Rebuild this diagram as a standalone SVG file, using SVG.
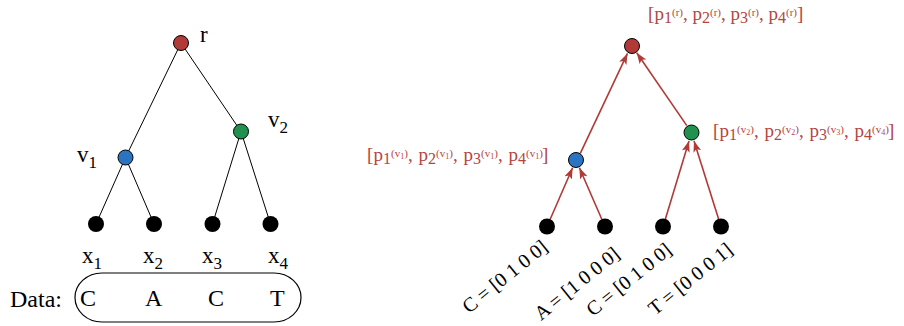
<svg xmlns="http://www.w3.org/2000/svg" width="904" height="326" viewBox="0 0 904 326">
<style>
.t{font-family:"Liberation Serif","Times New Roman",serif;fill:#000}
.rt{font-family:"Liberation Serif","Times New Roman",serif;fill:#b5443e}
.edge{stroke:#000;stroke-width:1;fill:none}
.arr{stroke:#b03a36;stroke-width:1.6;fill:none;marker-end:url(#ah)}
.leaf{fill:#000}
.nr{fill:#b23a36;stroke:#000;stroke-width:1}
.nb{fill:#2a74c2;stroke:#000;stroke-width:1}
.ng{fill:#21914f;stroke:#000;stroke-width:1}
.s{font-size:11px}
.ss{font-size:8px}
.d{font-size:16px}
</style>
<defs>
<marker id="ah" markerUnits="userSpaceOnUse" markerWidth="12" markerHeight="10" refX="11" refY="4" orient="auto">
<path d="M0,0 L11,4 L0,8 L2.5,4 z" fill="#b03a36"/>
</marker>
</defs>
<rect width="904" height="326" fill="#fff"/>
<g id="connectors">
<line class="edge" x1="181" y1="43" x2="125.5" y2="157.5"/>
<line class="edge" x1="181" y1="43" x2="241" y2="131.5"/>
<line class="edge" x1="125.5" y1="157.5" x2="96" y2="224"/>
<line class="edge" x1="125.5" y1="157.5" x2="154" y2="224"/>
<line class="edge" x1="241" y1="131.5" x2="212.5" y2="224"/>
<line class="edge" x1="241" y1="131.5" x2="270.5" y2="224"/>
<line class="arr" x1="550.2" y1="219.2" x2="572.6" y2="167.8"/>
<line class="arr" x1="601.8" y1="219.2" x2="579.4" y2="167.8"/>
<line class="arr" x1="665.4" y1="218.9" x2="689" y2="141"/>
<line class="arr" x1="718.6" y1="218.9" x2="694" y2="141"/>
<line class="arr" x1="580.3" y1="153.3" x2="627.5" y2="53.4"/>
<line class="arr" x1="686.8" y1="125.6" x2="636.7" y2="52.8"/>
</g>
<g id="node-r">
<circle class="nr" cx="181" cy="43" r="7.5"/>
<text class="t" x="200" y="42" font-size="23">r</text>
</g>
<g id="node-v1">
<circle class="nb" cx="125.5" cy="157.5" r="7.5"/>
<text class="t" x="77" y="162" font-size="23">v<tspan font-size="17" dy="6">1</tspan></text>
</g>
<g id="node-v2">
<circle class="ng" cx="241" cy="131.5" r="7.5"/>
<text class="t" x="268" y="127" font-size="23">v<tspan font-size="17" dy="6">2</tspan></text>
</g>
<g id="node-x1">
<circle class="leaf" cx="96" cy="224" r="8"/>
<text class="t" x="82" y="263" font-size="23">x<tspan font-size="17" dy="6">1</tspan></text>
</g>
<g id="node-x2">
<circle class="leaf" cx="154" cy="224" r="8"/>
<text class="t" x="143" y="263" font-size="23">x<tspan font-size="17" dy="6">2</tspan></text>
</g>
<g id="node-x3">
<circle class="leaf" cx="212.5" cy="224" r="8"/>
<text class="t" x="202" y="263" font-size="23">x<tspan font-size="17" dy="6">3</tspan></text>
</g>
<g id="node-x4">
<circle class="leaf" cx="270.5" cy="224" r="8"/>
<text class="t" x="268" y="263" font-size="23">x<tspan font-size="17" dy="6">4</tspan></text>
</g>
<g id="data">
<text class="t" x="10" y="307" font-size="24">Data:</text>
<rect x="75" y="273" width="226" height="49" rx="27" ry="24.5" fill="none" stroke="#000" stroke-width="1.2"/>
<text class="t" x="80" y="306" font-size="24">C</text>
<text class="t" x="145" y="306" font-size="24">A</text>
<text class="t" x="208" y="306" font-size="24">C</text>
<text class="t" x="270" y="306" font-size="24">T</text>
</g>
<g id="rnode-r">
<circle class="nr" cx="632" cy="46" r="7.5"/>
<text class="rt" font-size="19"><tspan x="648" y="20">[</tspan><tspan x="654.5" y="20">p</tspan><tspan class="d" x="664" y="22.5">1</tspan><tspan class="s" x="672" y="15.5">(r)</tspan><tspan x="683" y="20">,</tspan><tspan x="692.5" y="20">p</tspan><tspan class="d" x="702" y="22.5">2</tspan><tspan class="s" x="710" y="15.5">(r)</tspan><tspan x="721" y="20">,</tspan><tspan x="730.5" y="20">p</tspan><tspan class="d" x="740" y="22.5">3</tspan><tspan class="s" x="748" y="15.5">(r)</tspan><tspan x="759" y="20">,</tspan><tspan x="768.5" y="20">p</tspan><tspan class="d" x="778" y="22.5">4</tspan><tspan class="s" x="786" y="15.5">(r)</tspan><tspan x="797" y="20">]</tspan></text>
</g>
<g id="rnode-v1">
<circle class="nb" cx="576" cy="160" r="7.5"/>
<text class="rt" font-size="19"><tspan x="367" y="161">[</tspan><tspan x="373.5" y="161">p</tspan><tspan class="d" x="383" y="163.5">1</tspan><tspan class="s" x="391" y="156.5">(v</tspan><tspan class="ss" dy="2">1</tspan><tspan class="s" dy="-2">)</tspan><tspan x="408" y="161">,</tspan><tspan x="418.5" y="161">p</tspan><tspan class="d" x="428" y="163.5">2</tspan><tspan class="s" x="436" y="156.5">(v</tspan><tspan class="ss" dy="2">1</tspan><tspan class="s" dy="-2">)</tspan><tspan x="453" y="161">,</tspan><tspan x="463.5" y="161">p</tspan><tspan class="d" x="473" y="163.5">3</tspan><tspan class="s" x="481" y="156.5">(v</tspan><tspan class="ss" dy="2">1</tspan><tspan class="s" dy="-2">)</tspan><tspan x="498" y="161">,</tspan><tspan x="508.5" y="161">p</tspan><tspan class="d" x="518" y="163.5">4</tspan><tspan class="s" x="526" y="156.5">(v</tspan><tspan class="ss" dy="2">1</tspan><tspan class="s" dy="-2">)</tspan><tspan x="542" y="161">]</tspan></text>
</g>
<g id="rnode-v2">
<circle class="ng" cx="691.5" cy="132.5" r="7.5"/>
<text class="rt" font-size="19"><tspan x="713" y="137">[</tspan><tspan x="719.5" y="137">p</tspan><tspan class="d" x="729" y="139.5">1</tspan><tspan class="s" x="737" y="132.5">(v</tspan><tspan class="ss" dy="2">2</tspan><tspan class="s" dy="-2">)</tspan><tspan x="754" y="137">,</tspan><tspan x="764.5" y="137">p</tspan><tspan class="d" x="774" y="139.5">2</tspan><tspan class="s" x="782" y="132.5">(v</tspan><tspan class="ss" dy="2">2</tspan><tspan class="s" dy="-2">)</tspan><tspan x="799" y="137">,</tspan><tspan x="809.5" y="137">p</tspan><tspan class="d" x="819" y="139.5">3</tspan><tspan class="s" x="827" y="132.5">(v</tspan><tspan class="ss" dy="2">3</tspan><tspan class="s" dy="-2">)</tspan><tspan x="844" y="137">,</tspan><tspan x="854.5" y="137">p</tspan><tspan class="d" x="864" y="139.5">4</tspan><tspan class="s" x="872" y="132.5">(v</tspan><tspan class="ss" dy="2">4</tspan><tspan class="s" dy="-2">)</tspan><tspan x="888" y="137">]</tspan></text>
</g>
<g id="rleaf-1">
<circle class="leaf" cx="547" cy="226.5" r="8"/>
<text class="t" font-size="20" transform="translate(469,314) rotate(-39)">C = [0 1 0 0]</text>
</g>
<g id="rleaf-2">
<circle class="leaf" cx="605" cy="226.5" r="8"/>
<text class="t" font-size="20" transform="translate(541,321) rotate(-39)">A = [1 0 0 0]</text>
</g>
<g id="rleaf-3">
<circle class="leaf" cx="663" cy="226.5" r="8"/>
<text class="t" font-size="20" transform="translate(593,317) rotate(-39)">C = [0 1 0 0]</text>
</g>
<g id="rleaf-4">
<circle class="leaf" cx="721" cy="226.5" r="8"/>
<text class="t" font-size="20" transform="translate(655,316) rotate(-39)">T = [0 0 0 1]</text>
</g>
</svg>
